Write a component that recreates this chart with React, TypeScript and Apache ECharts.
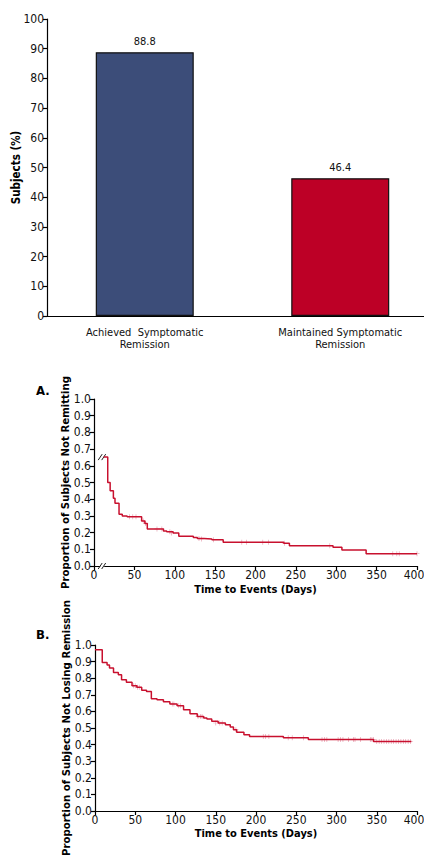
import React, { useEffect, useRef } from "react";
import * as echarts from "echarts";

const FONT = "'Liberation Sans Narrow', 'DejaVu Sans Condensed', 'Roboto Condensed', 'Arial Narrow', sans-serif";

// Top bar chart
const barCategories = ["Achieved  Symptomatic\nRemission", "Maintained Symptomatic\nRemission"];
const barValues = [88.8, 46.4];
const barColors = ["#3c4d79", "#bd0026"];

// Panel A: Kaplan-Meier, time to remission
const aTimes = [12, 17, 20, 24, 26, 31, 35, 41, 59, 63, 66, 86, 90, 98, 105, 123, 128, 136, 146, 160, 235, 242, 296, 307, 337, 400];
const aValues = [0.652, 0.5, 0.45, 0.405, 0.376, 0.31, 0.3, 0.295, 0.27, 0.255, 0.222, 0.21, 0.205, 0.198, 0.178, 0.17, 0.165, 0.162, 0.157, 0.142, 0.136, 0.122, 0.112, 0.096, 0.074, 0.074];
const aCensorTimes = [44, 48, 52, 61, 64, 78, 84, 94, 96, 130, 133, 148, 183, 189, 209, 216, 236, 292, 370, 375, 378, 400];
const aCensorValues = [0.295, 0.295, 0.295, 0.27, 0.255, 0.222, 0.222, 0.205, 0.198, 0.165, 0.162, 0.157, 0.142, 0.142, 0.142, 0.142, 0.136, 0.122, 0.074, 0.074, 0.074, 0.074];

// Panel B: Kaplan-Meier, time to losing remission
const bTimes = [0, 9, 15, 18, 23, 29, 33, 39, 46, 52, 58, 64, 70, 77, 85, 93, 102, 110, 118, 127, 135, 139, 145, 153, 162, 168, 172, 176, 185, 192, 234, 265, 346, 393];
const bValues = [0.972, 0.895, 0.88, 0.861, 0.835, 0.821, 0.791, 0.775, 0.755, 0.745, 0.727, 0.72, 0.676, 0.67, 0.658, 0.645, 0.634, 0.61, 0.586, 0.57, 0.56, 0.554, 0.54, 0.53, 0.52, 0.506, 0.49, 0.474, 0.46, 0.449, 0.441, 0.43, 0.419, 0.419];
const bCensorTimes = [48, 50, 53, 55, 96, 98, 104, 106, 128, 131, 133, 150, 155, 158, 175, 209, 212, 216, 240, 245, 259, 282, 285, 288, 302, 305, 308, 315, 321, 323, 330, 342, 344, 346, 350, 353, 356, 359, 362, 365, 368, 371, 374, 377, 380, 383, 386, 389, 392];
const bCensorValues = [0.755, 0.755, 0.745, 0.745, 0.645, 0.645, 0.634, 0.634, 0.57, 0.57, 0.57, 0.53, 0.53, 0.53, 0.49, 0.449, 0.449, 0.449, 0.441, 0.441, 0.441, 0.43, 0.43, 0.43, 0.43, 0.43, 0.43, 0.43, 0.43, 0.43, 0.43, 0.43, 0.43, 0.43, 0.419, 0.419, 0.419, 0.419, 0.419, 0.419, 0.419, 0.419, 0.419, 0.419, 0.419, 0.419, 0.419, 0.419, 0.419];

const yTicksBar = { min: 0, max: 100, interval: 10 };
const kmY = { min: 0, max: 1, interval: 0.1 };
const kmX = { min: 0, max: 400, interval: 50 };

const zip = (xs: number[], ys: number[]) => xs.map((x, i) => [x, ys[i]]);

const PLUS = "path://M0,3.5H3V0H4V3.5H7V4.5H4V8H3V4.5H0Z";

export default function App() {
  const ref = useRef<HTMLDivElement>(null);
  useEffect(() => {
    document.body.style.margin = "0";
    const chart = echarts.init(ref.current!, null, { renderer: "svg" });
    const axisLine = { show: true, lineStyle: { color: "#000", width: 1.2 } };
    const axisTick = { show: true, inside: false, length: 4, lineStyle: { color: "#000", width: 1.2 } };
    const tickLabel = { color: "#111", fontFamily: FONT, fontSize: 12, margin: 3 };
    const nameStyle = (size: number) => ({ color: "#000", fontFamily: FONT, fontWeight: "bold" as const, fontSize: size });
    const kmYAxis = (gridIndex: number, name: string) => ({
      type: "value" as const, gridIndex, ...kmY, name, nameLocation: "middle" as const, nameGap: 23, nameMoveOverlap: false,
      nameTextStyle: nameStyle(11.3), axisLine, axisTick, splitLine: { show: false },
      axisLabel: { ...tickLabel, formatter: (v: number) => v.toFixed(1) },
    });
    const kmXAxis = (gridIndex: number, gap: number) => ({
      type: "value" as const, gridIndex, ...kmX, name: "Time to Events (Days)", nameLocation: "middle" as const, nameGap: gap,
      nameTextStyle: nameStyle(11), axisLine, axisTick, splitLine: { show: false },
      axisLabel: {
        ...tickLabel, margin: 3,
        formatter: (v: number) => (v === kmX.max ? "{e|" + v + "}" : String(v)),
        rich: { e: { fontFamily: FONT, fontSize: 12, color: "#111", padding: [0, 6, 0, 0] } },
      },
    });
    const gridBase = { outerBoundsMode: "none", containLabel: false };
    chart.setOption({
      animation: false,
      backgroundColor: "#fff",
      grid: [
        { ...gridBase, left: 47, top: 19, width: 391, height: 297 },
        { ...gridBase, left: 94, top: 399, width: 323, height: 167 },
        { ...gridBase, left: 95, top: 645, width: 322, height: 166 },
      ],
      xAxis: [
        {
          type: "category", gridIndex: 0, data: barCategories, axisLine, axisTick: { show: false },
          axisLabel: { color: "#111", fontFamily: FONT, fontSize: 11, lineHeight: 12, margin: 10 },
        },
        kmXAxis(1, 18),
        kmXAxis(2, 17),
      ],
      yAxis: [
        {
          type: "value", gridIndex: 0, ...yTicksBar, name: "Subjects (%)", nameLocation: "middle", nameGap: 25, nameMoveOverlap: false,
          nameTextStyle: nameStyle(11.5), axisLine, axisTick, splitLine: { show: false }, axisLabel: tickLabel,
        },
        kmYAxis(1, "Proportion of Subjects Not Remitting"),
        kmYAxis(2, "Proportion of Subjects Not Losing Remission"),
      ],
      series: [
        {
          type: "bar", xAxisIndex: 0, yAxisIndex: 0, barWidth: 98,
          data: barValues.map((v, i) => ({ value: v, itemStyle: { color: barColors[i], borderColor: "#111", borderWidth: 1.2 } })),
          label: { show: true, position: "top", distance: 5, color: "#111", fontFamily: FONT, fontSize: 11, formatter: (p: any) => p.value.toFixed(1) },
        },
        {
          type: "line", xAxisIndex: 1, yAxisIndex: 1, step: "end", showSymbol: false, symbol: "none",
          data: zip(aTimes, aValues), lineStyle: { color: "#c8102e", width: 1.5 },
        },
        {
          type: "scatter", xAxisIndex: 1, yAxisIndex: 1, symbol: PLUS, symbolSize: 5,
          data: zip(aCensorTimes, aCensorValues), itemStyle: { color: "#e48ca0" },
        },
        {
          type: "line", xAxisIndex: 2, yAxisIndex: 2, step: "end", showSymbol: false, symbol: "none",
          data: zip(bTimes, bValues), lineStyle: { color: "#c8102e", width: 1.5 },
        },
        {
          type: "scatter", xAxisIndex: 2, yAxisIndex: 2, symbol: PLUS, symbolSize: 5,
          data: zip(bCensorTimes, bCensorValues), itemStyle: { color: "#e48ca0" },
        },
      ],
    });
    // break marks on panel A, placed through the axes' own scale
    const start = chart.convertToPixel({ gridIndex: 1 }, [aTimes[0], aValues[0]]) as number[];
    const xb = chart.convertToPixel({ gridIndex: 1 }, [12, 0]) as number[];
    const slash = (cx: number, cy: number) => [
      { type: "line", shape: { x1: cx - 5, y1: cy + 3, x2: cx - 1, y2: cy - 3 }, style: { stroke: "#222", lineWidth: 1 } },
      { type: "line", shape: { x1: cx - 1.5, y1: cy + 3, x2: cx + 2.5, y2: cy - 3 }, style: { stroke: "#222", lineWidth: 1 } },
    ];
    chart.setOption({
      graphic: [
        { type: "text", left: 36, top: 384, style: { text: "A.", fontFamily: FONT, fontWeight: "bold", fontSize: 13, fill: "#000" } },
        { type: "text", left: 36, top: 628, style: { text: "B.", fontFamily: FONT, fontWeight: "bold", fontSize: 13, fill: "#000" } },
        ...slash(start[0] - 0.5, start[1]),
        { type: "rect", shape: { x: xb[0] - 3.5, y: xb[1] - 2, width: 4, height: 4 }, style: { fill: "#fff" }, z: 10 },
        ...slash(xb[0] - 0.5, xb[1]).map((g) => ({ ...g, z: 11 })),
      ],
    });
    return () => chart.dispose();
  }, []);
  return <div ref={ref} style={{ position: "absolute", left: 0, top: 0, width: 424, height: 857 }} />;
}
